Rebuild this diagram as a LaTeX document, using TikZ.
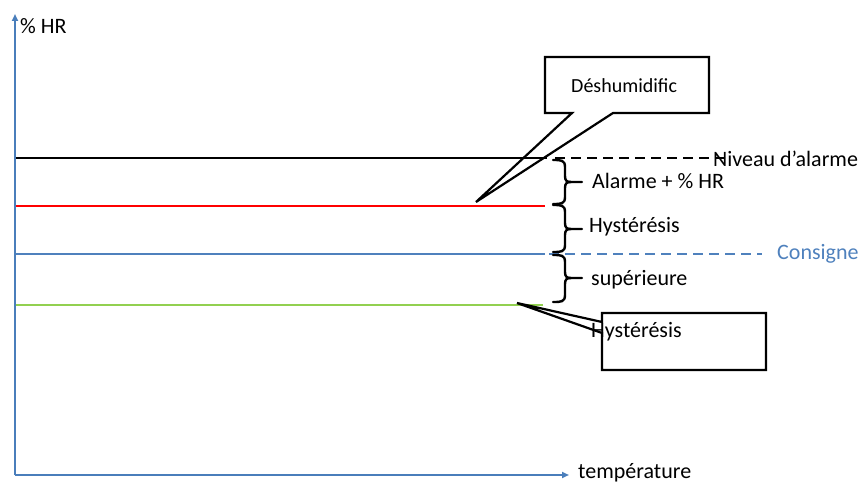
\documentclass[tikz,border=0pt]{standalone}
\usepackage{fontspec}
\setmainfont{Carlito}
\usetikzlibrary{arrows.meta}
\definecolor{axisblue}{HTML}{4A7EBB}
\definecolor{consblue}{HTML}{4F81BD}
\definecolor{lgreen}{HTML}{92D050}
\tikzset{
  lbl/.style={inner sep=0pt, anchor=base west, font=\fontsize{22}{26}\selectfont},
  smalllbl/.style={inner sep=0pt, anchor=base west, font=\fontsize{20}{24}\selectfont},
  axisline/.style={draw=axisblue, line width=2.2pt, -{Triangle[length=7pt,width=6pt]}},
  levelline/.style={line width=2.2pt},
  dashline/.style={line width=2.2pt, dash pattern=on 10pt off 6pt},
  bracepath/.style={line width=2.4pt, line join=round, line cap=round},
  callout/.style={line width=2.2pt, line join=miter}
}
\newcommand{\mybrace}[3]{% y1, ym, y2
  \draw[bracepath] (553,#1) .. controls (561,#1) and (565,#1) .. (565,#1+7)
     -- (565,#2-6) .. controls (565,#2-1) and (567,#2) .. (571,#2) -- (582,#2);
  \draw[bracepath] (571,#2) .. controls (567,#2) and (565,#2+1) .. (565,#2+6)
     -- (565,#3-7) .. controls (565,#3) and (561,#3) .. (553,#3);
}
\begin{document}
\begin{tikzpicture}[x=1pt,y=-1pt]
\useasboundingbox (0,0) rectangle (863,484);
% axes
\coordinate (O) at (15,475);
\coordinate (Ytop) at (15,14);
\coordinate (Xend) at (569,475);
\draw[axisline] (O) -- (Ytop);
\draw[axisline] (O) -- (Xend);
% level lines
\coordinate (k1) at (16,158); \coordinate (k2) at (547,158);
\coordinate (r1) at (16,206); \coordinate (r2) at (545,206);
\coordinate (b1) at (16,254); \coordinate (b2) at (545,254);
\coordinate (g1) at (16,305); \coordinate (g2) at (543,305);
\draw[levelline, black] (k1) -- (k2);
\draw[levelline, red] (r1) -- (r2);
\draw[levelline, consblue] (b1) -- (b2);
\draw[levelline, lgreen] (g1) -- (g2);
% dashed extensions
\coordinate (kd1) at (555,158); \coordinate (kd2) at (726,158);
\coordinate (bd1) at (549,254); \coordinate (bd2) at (762,254);
\draw[dashline, black] (kd1) -- (kd2);
\draw[dashline, consblue] (bd1) -- (bd2);
% braces
\mybrace{160}{182}{204}
\mybrace{205}{229}{252}
\mybrace{255}{278}{302}
% callout 1
\coordinate (c1a) at (572,113); \coordinate (c1tip) at (476,202);
\coordinate (c1b) at (613,113); \coordinate (c1br) at (709,113);
\coordinate (c1tr) at (709,57); \coordinate (c1tl) at (545,57);
\coordinate (c1bl) at (545,113);
\draw[callout] (c1a) -- (c1tip) -- (c1b) -- (c1br) -- (c1tr) -- (c1tl) -- (c1bl) -- cycle;
% callout 2
\coordinate (c2a) at (602,322); \coordinate (c2tip) at (517,303);
\coordinate (c2b) at (602,333); \coordinate (c2bl) at (602,370);
\coordinate (c2br) at (766,370); \coordinate (c2tr) at (766,313);
\coordinate (c2tl) at (602,313);
\draw[callout] (c2a) -- (c2tip) -- (c2b) -- (c2bl) -- (c2br) -- (c2tr) -- (c2tl) -- cycle;
% texts
\node[lbl] (hr) at (20,34) {\% HR};
\node[lbl] (temp) at (578,478) {température};
\node[smalllbl] (desh) at (571,93) {Déshumidific};
\node[lbl] (niv) at (713,167) {Niveau d’alarme};
\node[lbl] (alar) at (592,189) {Alarme + \% HR};
\node[lbl] (hyst) at (589,233) {Hystérésis};
\node[lbl, text=consblue] (cons) at (777,259) {Consigne};
\node[lbl] (sup) at (591,285) {supérieure};
\node[lbl] (hyst2) at (591,337) {Hystérésis};
\end{tikzpicture}
\end{document}
